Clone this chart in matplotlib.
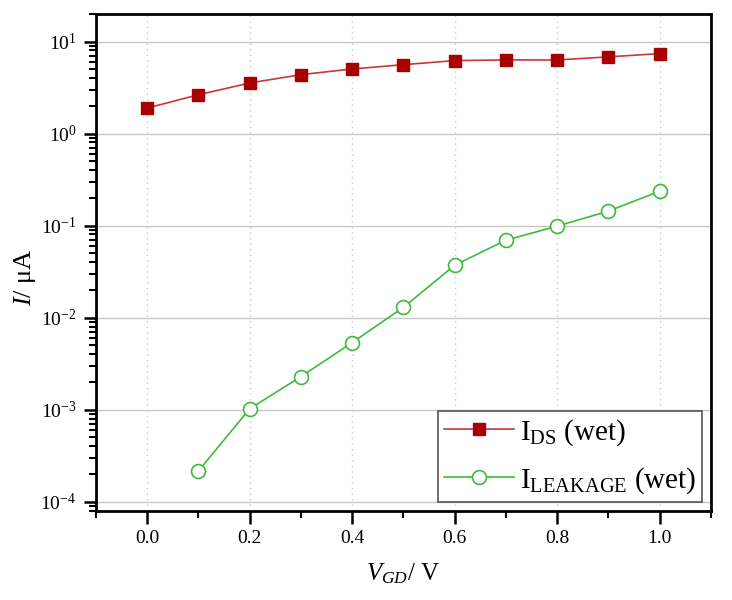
import matplotlib
matplotlib.use("Agg")
import matplotlib.pyplot as plt
from matplotlib.ticker import LogLocator, MultipleLocator, FixedLocator, NullFormatter

plt.rcParams['font.family'] = ['Liberation Serif', 'DejaVu Serif']
plt.rcParams['mathtext.fontset'] = 'custom'
plt.rcParams['mathtext.rm'] = 'Liberation Serif'
plt.rcParams['mathtext.it'] = 'Liberation Serif:italic'

vgd_ids = [0.0, 0.1, 0.2, 0.3, 0.4, 0.5, 0.6, 0.7, 0.8, 0.9, 1.0]
ids_wet = [1.89, 2.64, 3.54, 4.36, 5.03, 5.6, 6.2, 6.31, 6.3, 6.81, 7.39]
vgd_leak = [0.1, 0.2, 0.3, 0.4, 0.5, 0.6, 0.7, 0.8, 0.9, 1.0]
leak_wet = [2.15e-4, 1.02e-3, 2.28e-3, 5.35e-3, 1.29e-2, 3.7e-2, 6.93e-2, 9.85e-2, 0.1435, 0.2355]

fig = plt.figure(figsize=(7.32, 6.0), dpi=100)
ax = fig.add_axes([0.131, 0.149, 0.84, 0.828])

ax.plot(vgd_ids, ids_wet, '-', color='#C8383A', lw=1.2, marker='s', ms=8,
        mfc='#A80000', mec='#A80000', label=r'I$_{\mathrm{DS}}$ (wet)', zorder=3)
ax.plot(vgd_leak, leak_wet, '-', color='#3CBB3C', lw=1.2, marker='o', ms=10,
        mfc='white', mec='#3CBB3C', mew=1.2, label=r'I$_{\mathrm{LEAKAGE}}$ (wet)', zorder=3)

ax.set_yscale('log')
ax.set_ylim(8e-5, 20)
ax.set_xlim(-0.1, 1.1)

ax.xaxis.set_major_locator(FixedLocator([0.0, 0.2, 0.4, 0.6, 0.8, 1.0]))
ax.xaxis.set_minor_locator(MultipleLocator(0.1))
ax.set_xticklabels(['0.0', '0.2', '0.4', '0.6', '0.8', '1.0'])
ax.yaxis.set_major_locator(LogLocator(base=10, numticks=20))
ax.yaxis.set_minor_locator(LogLocator(base=10, subs=range(2, 10), numticks=20))
ax.yaxis.set_minor_formatter(NullFormatter())

ax.grid(True, which='major', axis='y', color='#c8c8c8', lw=1.0, ls='-')
ax.grid(True, which='major', axis='x', color='#c8c8c8', lw=1.0, ls=(0, (1, 3)))
ax.set_axisbelow(True)

for s in ax.spines.values():
    s.set_linewidth(2.0)
    s.set_color('black')

ax.tick_params(which='major', direction='out', length=9, width=1.8, labelsize=14, pad=5,
               top=False, right=False)
ax.tick_params(which='minor', direction='out', length=5, width=1.5, top=False, right=False)

ax.set_ylabel(r'$\mathit{I}$/ μA', fontsize=19)
ax.yaxis.set_label_coords(-0.094, 0.47)
ax.set_xlabel(r'$\mathit{V}_{\mathit{GD}}$/ V', fontsize=18, labelpad=10)

leg = ax.legend(loc='lower right', fontsize=21, frameon=True, fancybox=False,
                edgecolor='#555555', framealpha=1, borderaxespad=0.3,
                handlelength=2.4, handletextpad=0.2, labelspacing=0.6,
                borderpad=0.2, numpoints=1)
leg.get_frame().set_linewidth(1.2)

fig.savefig('out.png', dpi=100)
